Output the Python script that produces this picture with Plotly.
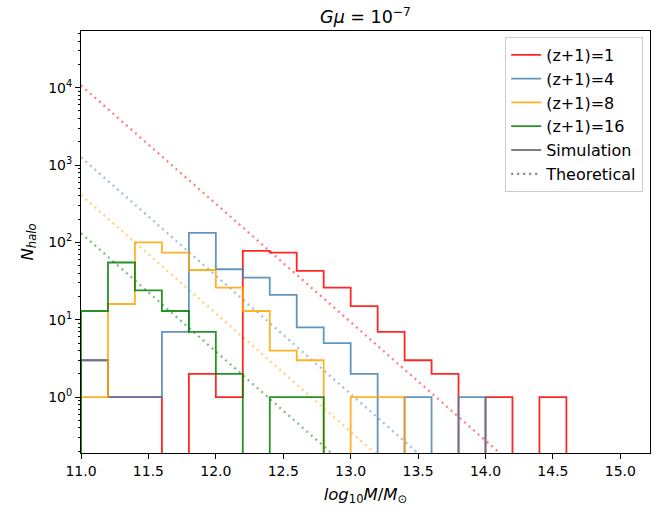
import numpy as np
import plotly.graph_objects as go

# Halo mass function for cosmic-string seeded halos, G*mu = 1e-7
# Histogram bins in log10(M/Msun): start at 11.0, width 0.2
bin_start = 11.0
bin_width = 0.2

labels = ["(z+1)=1", "(z+1)=4", "(z+1)=8", "(z+1)=16"]
colors = ["#ff0000", "#4682b4", "#ffa500", "#008000"]

counts_z1 = [3, 1, 1, 0, 2, 1, 78, 74, 43, 26, 15, 7, 3, 2, 0, 1, 0, 1]
counts_z4 = [3, 1, 1, 7, 133, 45, 35, 21, 8, 5, 2, 0, 1, 0, 1]
counts_z8 = [1, 16, 100, 74, 44, 26, 13, 4, 3, 0, 1, 1]
counts_z16 = [13, 55, 24, 13, 7, 2, 0, 1, 1]
sim_counts = [counts_z1, counts_z4, counts_z8, counts_z16]

# Theoretical power law N = A * (M / 1e11)^slope
theory_norm = [1.07e4, 1.26e3, 4.1e2, 1.32e2]
theory_slope = -1.53

y_ticks = [1, 10, 100, 1000, 10000]
y_ticktext = ["10<sup>0</sup>", "10<sup>1</sup>", "10<sup>2</sup>",
              "10<sup>3</sup>", "10<sup>4</sup>"]
x_ticks = [11.0, 11.5, 12.0, 12.5, 13.0, 13.5, 14.0, 14.5, 15.0]

x_range = [11.0, 15.22]
y_floor = 0.19
y_top = 5.4e4
empty_level = 1e-3  # empty bins drop below the axis floor


def step_outline(counts):
    """Outline of a step histogram (like histtype='step')."""
    c = np.asarray(counts, dtype=float)
    c = np.where(c > 0, c, empty_level)
    edges = bin_start + bin_width * np.arange(len(c) + 1)
    xs = [edges[0]]
    ys = [empty_level]
    for i, v in enumerate(c):
        xs += [edges[i], edges[i + 1]]
        ys += [v, v]
    xs.append(edges[-1])
    ys.append(empty_level)
    return xs, ys


def rgba(hex_color, a):
    h = hex_color.lstrip("#")
    r, g, b = int(h[0:2], 16), int(h[2:4], 16), int(h[4:6], 16)
    return f"rgba({r},{g},{b},{a})"


fig = go.Figure()

# theoretical curves (dotted)
tx = np.array(x_range)
for norm, col in zip(theory_norm, colors):
    ty = norm * 10 ** (theory_slope * (tx - 11.0))
    fig.add_trace(go.Scatter(
        x=tx, y=ty, mode="lines", showlegend=False, hoverinfo="skip",
        line=dict(color=rgba(col, 0.5), width=2.3, dash="2px,4px"),
    ))

# simulated histograms
for lab, col, cnt in zip(labels, colors, sim_counts):
    xs, ys = step_outline(cnt)
    fig.add_trace(go.Scatter(
        x=xs, y=ys, mode="lines", name=lab,
        line=dict(color=rgba(col, 0.85), width=1.8),
    ))

# legend-only entries for the line styles
fig.add_trace(go.Scatter(x=[None], y=[None], mode="lines", name="Simulation",
                         line=dict(color="gray", width=2.2)))
fig.add_trace(go.Scatter(x=[None], y=[None], mode="lines", name="Theoretical",
                         line=dict(color="gray", width=2.2, dash="2px,4px")))

minor_vals = [m * 10.0 ** e for e in range(-1, 5) for m in range(2, 10)]

font_family = "DejaVu Sans, Verdana, sans-serif"

fig.update_layout(
    width=672, height=512,
    margin=dict(l=81, r=22, t=31, b=57),
    paper_bgcolor="white", plot_bgcolor="white",
    font=dict(family=font_family, size=14, color="black"),
    title=dict(
        text="<i>Gμ</i> = 10<sup>−7</sup>",
        x=0.5, xref="paper", xanchor="center",
        y=1 - 17 / 512, yref="container", yanchor="middle",
        font=dict(size=17.5, family=font_family),
    ),
    legend=dict(
        x=0.988, y=0.986, xanchor="right", yanchor="top",
        bgcolor="rgba(255,255,255,0.8)", bordercolor="#cccccc", borderwidth=1,
        font=dict(size=16, family=font_family),
        itemwidth=30,
    ),
    xaxis=dict(
        range=x_range, tickvals=x_ticks, tickformat=".1f",
        ticks="outside", ticklen=5, tickwidth=1, tickcolor="black",
        showline=True, mirror=True, linecolor="black", linewidth=1,
        showgrid=False, zeroline=False,
        title=dict(text="<i>log</i><sub>10</sub><i>M</i>/<i>M</i><sub>⊙</sub>",
                   standoff=10, font=dict(size=16.5)),
    ),
    yaxis=dict(
        type="log", range=[np.log10(y_floor), np.log10(y_top)],
        tickvals=y_ticks, ticktext=y_ticktext,
        ticks="outside", ticklen=5, tickwidth=1, tickcolor="black",
        showline=True, mirror=True, linecolor="black", linewidth=1,
        showgrid=False, zeroline=False,
        minor=dict(tickvals=minor_vals, ticks="outside", ticklen=2.5,
                   tickwidth=0.8, tickcolor="black", showgrid=False),
        title=dict(text="<i>N</i><sub><i>halo</i></sub>", standoff=10,
                   font=dict(size=16.5)),
    ),
)

fig.write_html("out.html")
